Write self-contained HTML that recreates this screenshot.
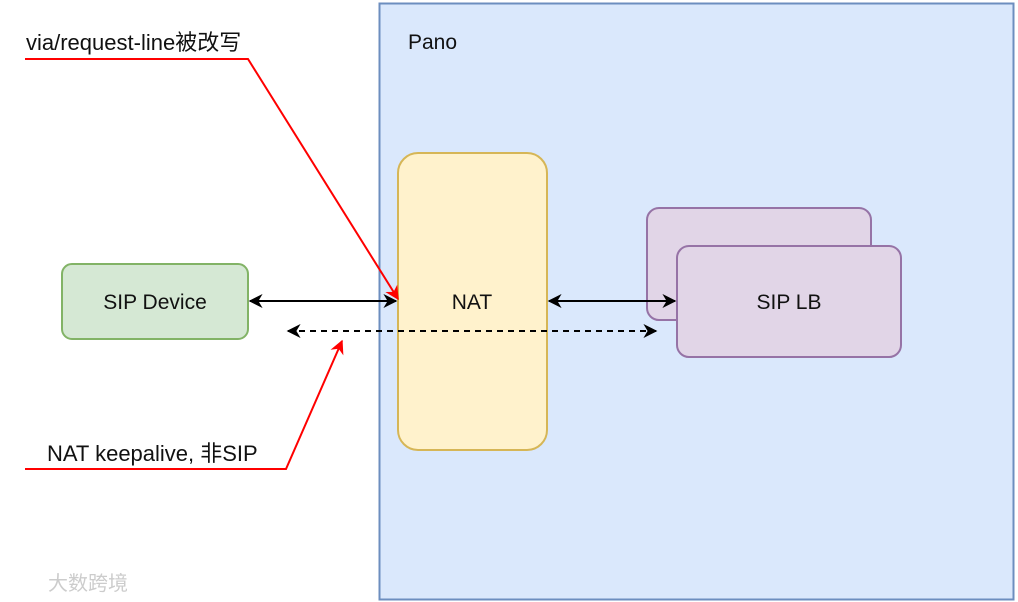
<!DOCTYPE html>
<html><head><meta charset="utf-8"><style>body{margin:0;background:#fff}svg{display:block}text{font-family:"Liberation Sans","Noto Sans CJK SC",sans-serif;font-size:22px;fill:#111}</style></head><body>
<svg width="1018" height="602" viewBox="0 0 1018 602">
<defs>
<marker id="k" viewBox="0 0 10 10" refX="9" refY="5" markerWidth="7" markerHeight="7" orient="auto-start-reverse"><path d="M0,0 L10,5 L0,10 L3,5z" fill="#000"/></marker>
<marker id="r" viewBox="0 0 10 10" refX="9" refY="5" markerWidth="7" markerHeight="7" orient="auto"><path d="M0,0 L10,5 L0,10 L3,5z" fill="#f00"/></marker>
</defs>
<rect x="379.5" y="3.5" width="634" height="596" fill="#dae8fc" stroke="#6c8ebf" stroke-width="2"/>
<text x="408" y="49" style="font-size:21px">Pano</text>
<rect x="398" y="153" width="149" height="297" rx="20" fill="#fff2cc" stroke="#d6b656" stroke-width="2"/>
<text x="472" y="309" text-anchor="middle" style="font-size:21px">NAT</text>
<rect x="62" y="264" width="186" height="75" rx="10" fill="#d5e8d4" stroke="#82b366" stroke-width="2"/>
<text x="155" y="309" text-anchor="middle" style="font-size:21px">SIP Device</text>
<rect x="647" y="208" width="224" height="112" rx="12" fill="#e1d5e7" stroke="#9673a6" stroke-width="2"/>
<rect x="677" y="246" width="224" height="111" rx="12" fill="#e1d5e7" stroke="#9673a6" stroke-width="2"/>
<text x="789" y="309" text-anchor="middle" style="font-size:21px">SIP LB</text>
<line x1="250" y1="301" x2="396" y2="301" stroke="#000" stroke-width="2" marker-start="url(#k)" marker-end="url(#k)"/>
<line x1="549" y1="301" x2="675" y2="301" stroke="#000" stroke-width="2" marker-start="url(#k)" marker-end="url(#k)"/>
<line x1="288" y1="331" x2="656" y2="331" stroke="#000" stroke-width="2" stroke-dasharray="6,5" marker-start="url(#k)" marker-end="url(#k)"/>
<polyline points="25,59 248,59 398,299" fill="none" stroke="#f00" stroke-width="2" marker-end="url(#r)"/>
<polyline points="25,469 286,469 342,341" fill="none" stroke="#f00" stroke-width="2" marker-end="url(#r)"/>
<text x="26" y="50">via/request-line被改写</text>
<text x="47" y="461">NAT keepalive, 非SIP</text>
<text x="48" y="590" style="font-size:20px;fill:#ccc">大数跨境</text>
</svg>
</body></html>
